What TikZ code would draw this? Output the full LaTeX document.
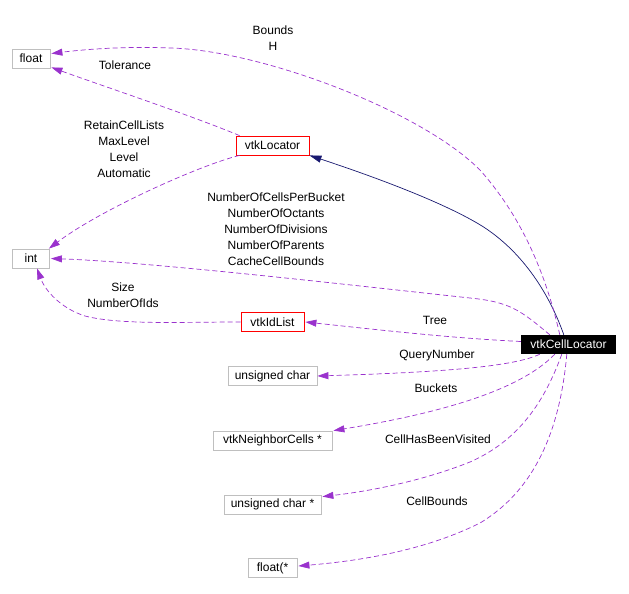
\documentclass[tikz,border=0pt]{standalone}
\usepackage{fontspec}
\setmainfont{Liberation Sans}
\usetikzlibrary{arrows.meta,calc}
\definecolor{edgepurple}{HTML}{9A32CD}
\definecolor{inhnavy}{HTML}{191970}
\definecolor{boxgray}{HTML}{BFBFBF}
\begin{document}
\begin{tikzpicture}[x=1pt,y=-1pt,
  every node/.style={font=\fontsize{12}{16}\selectfont, inner sep=0pt},
  plainbox/.style={draw=boxgray, line width=0.8pt, minimum height=19pt},
  redbox/.style={draw=red, line width=0.8pt, minimum height=19pt},
  mainbox/.style={fill=black, text=white, minimum height=19pt},
  usage/.style={draw=edgepurple, line width=0.7pt, dash pattern=on 5pt off 3pt,
    -{Triangle[length=11pt,width=7pt,fill=edgepurple]}},
  inherit/.style={draw=inhnavy, line width=0.7pt,
    -{Triangle[length=12pt,width=7pt,fill=inhnavy]}},
  lbl/.style={align=center}
]
\useasboundingbox (0,0) rectangle (629,594);

% nodes
\node[plainbox, minimum width=38pt] (fl) at (31,58.5) {float};
\node[redbox, minimum width=73pt] (loc) at (272.5,145.5) {vtkLocator};
\node[plainbox, minimum width=37pt] (int) at (31,258.5) {int};
\node[redbox, minimum width=63pt] (idl) at (272.5,322) {vtkIdList};
\node[mainbox, minimum width=95pt] (cl) at (568.5,344.5) {vtkCellLocator};
\node[plainbox, minimum width=89pt] (uc) at (272.5,376) {unsigned char};
\node[plainbox, minimum width=119pt] (nb) at (272.5,440.5) {vtkNeighborCells *};
\node[plainbox, minimum width=97pt] (ucs) at (272.5,504.5) {unsigned char *};
\node[plainbox, minimum width=49pt] (fs) at (272.5,568) {float(*};

% inheritance
\draw[inherit] ($(cl.north west)+(43,0)$) .. controls (548,290) and (520,250) .. (482,226)
  .. controls (440,200) and (360,172) .. (loc.south east);

% usage edges
\draw[usage] ($(cl.north west)+(39,0)$) .. controls (545,270) and (520,215) .. (480,170)
  .. controls (420,110) and (260,50) .. (170,48)
  .. controls (120,46) and (80,50) .. ($(fl.east)+(1,-5)$);
\draw[usage] ($(loc.north west)+(4,0)$) .. controls (190,115) and (100,85) .. ($(fl.south east)+(1,-1)$);
\draw[usage] ($(loc.south west)+(4,0)$) .. controls (200,165) and (100,210) .. ($(int.north east)+(-1,0)$);
\draw[usage] ($(cl.north west)+(29,0)$) .. controls (520,310) and (510,302) .. (470,298)
  .. controls (350,285) and (150,262) .. ($(int.east)+(1,0)$);
\draw[usage] (idl.west) .. controls (180,322) and (120,325) .. (85,316)
  .. controls (60,308) and (45,290) .. ($(int.south)+(6,0)$);
\draw[usage] ($(cl.west)+(0,-3)$) .. controls (450,338) and (380,330) .. ($(idl.east)+(1,0)$);
\draw[usage] ($(cl.south west)+(19,0)$) .. controls (515,366) and (450,372) .. (uc.east);
\draw[usage] ($(cl.south west)+(34,0)$) .. controls (525,385) and (460,410) .. ($(nb.north east)+(1,0)$);
\draw[usage] ($(cl.south west)+(41,0)$) .. controls (545,400) and (520,440) .. (470,462)
  .. controls (430,478) and (380,490) .. ($(ucs.north east)+(1,2)$);
\draw[usage] ($(cl.south west)+(46,0)$) .. controls (560,430) and (535,490) .. (480,523)
  .. controls (430,548) and (370,560) .. ($(fs.east)+(1,-2)$);

% labels
\node[lbl] (lbounds) at (273,38.5) {Bounds\\H};
\node[lbl] (ltol) at (125,65) {Tolerance};
\node[lbl] (lret) at (124,149) {RetainCellLists\\MaxLevel\\Level\\Automatic};
\node[lbl] (lnum) at (276,229) {NumberOfCellsPerBucket\\NumberOfOctants\\NumberOfDivisions\\NumberOfParents\\CacheCellBounds};
\node[lbl] (lsize) at (123,295) {Size\\NumberOfIds};
\node[lbl] (ltree) at (435,320) {Tree};
\node[lbl] (lquery) at (437,355) {QueryNumber};
\node[lbl] (lbuck) at (436,388) {Buckets};
\node[lbl] (lvis) at (438,439) {CellHasBeenVisited};
\node[lbl] (lcb) at (437,501) {CellBounds};
\end{tikzpicture}
\end{document}
